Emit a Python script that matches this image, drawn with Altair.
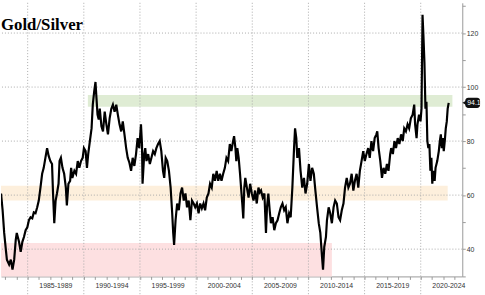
import altair as alt
import pandas as pd

years = [1982.63,1982.77,1982.91,1983.06,1983.15,1983.35,1983.50,1983.65,1983.80,1983.94,1984.03,1984.23,1984.38,1984.53,1984.67,1984.82,1984.97,
1985.11,1985.26,1985.41,1985.55,1985.70,1985.85,1985.99,1986.14,1986.29,1986.43,1986.58,1986.73,1986.87,1987.02,1987.17,1987.26,1987.37,1987.49,1987.61,1987.75,1987.84,1987.96,
1988.10,1988.25,1988.40,1988.49,1988.63,1988.78,1988.87,1988.98,1989.16,1989.31,1989.46,1989.60,1989.75,1989.90,
1990.01,1990.16,1990.28,1990.39,1990.54,1990.69,1990.80,1990.92,1991.04,1991.13,1991.22,1991.33,1991.42,1991.57,1991.71,1991.86,
1992.01,1992.15,1992.30,1992.45,1992.59,1992.74,1992.89,1993.03,1993.18,1993.33,1993.47,1993.62,1993.77,1993.91,
1994.06,1994.21,1994.35,1994.50,1994.65,1994.79,1994.94,1995.09,1995.18,1995.23,1995.38,1995.47,1995.58,1995.73,1995.88,
1996.02,1996.17,1996.32,1996.46,1996.61,1996.76,1996.90,1997.05,1997.16,1997.29,1997.43,1997.58,1997.73,1997.87,1997.96,
1998.04,1998.17,1998.31,1998.46,1998.61,1998.75,1998.90,1999.05,1999.19,1999.34,1999.49,1999.63,1999.78,1999.92,
2000.07,2000.22,2000.36,2000.51,2000.66,2000.80,2000.95,2001.10,2001.24,2001.39,2001.53,2001.68,2001.83,2001.97,
2002.12,2002.26,2002.41,2002.56,2002.70,2002.85,2003.00,2003.14,2003.29,2003.38,2003.50,2003.58,2003.67,2003.79,2003.91,
2004.02,2004.11,2004.20,2004.29,2004.38,2004.52,2004.67,2004.81,2004.96,2005.11,2005.25,2005.40,2005.55,2005.67,2005.78,2005.93,
2006.08,2006.22,2006.31,2006.43,2006.55,2006.66,2006.81,2006.96,2007.10,2007.25,2007.40,2007.54,2007.69,2007.84,2007.98,
2008.13,2008.28,2008.42,2008.57,2008.72,2008.81,2008.92,2009.01,2009.16,2009.30,2009.45,2009.60,2009.74,2009.89,
2010.04,2010.18,2010.33,2010.48,2010.62,2010.77,2010.92,2011.06,2011.21,2011.30,2011.41,2011.56,2011.65,2011.80,2011.94,
2012.09,2012.24,2012.38,2012.53,2012.68,2012.82,2012.97,2013.12,2013.26,2013.41,2013.56,2013.70,2013.85,
2014.00,2014.14,2014.29,2014.44,2014.58,2014.73,2014.88,2015.02,2015.17,2015.32,2015.46,2015.61,2015.76,2015.90,
2016.05,2016.13,2016.25,2016.40,2016.55,2016.69,2016.84,2016.99,2017.13,2017.28,2017.37,2017.52,2017.66,2017.80,2017.95,
2018.10,2018.25,2018.40,2018.53,2018.68,2018.83,2018.97,2019.12,2019.28,2019.42,2019.50,2019.63,2019.71,2019.85,2019.98,
2020.07,2020.16,2020.24,2020.33,2020.42,2020.51,2020.59,2020.68,2020.77,2020.86,2020.95,2021.03,2021.12,2021.24,2021.32,
2021.47,2021.61,2021.70,2021.79,2021.88,2021.97,2022.05,2022.14,2022.23,2022.32,2022.40,2022.49]

ratio = [60.6,54.4,46.0,39.7,36.1,34.3,36.1,32.4,36.1,43.4,46.0,42.7,39.0,42.7,44.5,47.0,48.1,
50.7,51.8,51.4,53.6,53.3,55.5,58.0,62.8,67.9,70.1,73.8,77.4,74.5,72.6,71.5,60.6,49.6,58.0,60.6,64.2,72.6,73.8,
70.1,67.9,62.8,56.2,64.2,65.3,70.1,66.4,69.0,67.9,72.6,70.1,72.6,73.8,
77.4,76.3,70.1,75.2,80.0,84.7,93.5,98.2,101.9,95.7,89.8,88.0,92.0,85.5,83.6,90.9,
86.2,82.5,88.4,92.0,93.5,90.9,93.5,89.8,86.2,83.6,87.3,82.5,77.4,73.8,
72.0,69.0,73.8,70.8,75.2,81.1,77.4,86.2,78.9,64.2,75.2,77.4,72.6,75.2,71.5,
73.8,76.3,75.2,77.4,78.9,80.0,76.3,69.0,66.4,73.8,72.6,69.0,62.8,53.3,46.0,
41.6,50.7,56.9,54.4,60.6,62.8,58.0,60.6,55.5,58.0,50.7,58.0,56.9,55.5,
56.9,53.3,56.9,55.1,56.9,54.4,59.1,60.6,64.2,62.8,67.9,65.3,69.0,65.3,
67.9,65.3,67.9,70.1,73.8,72.6,78.9,76.3,80.0,81.8,77.4,72.6,77.4,73.8,67.9,
61.7,56.9,51.4,62.8,66.4,62.8,59.1,64.2,60.6,58.0,61.7,56.9,62.8,61.0,61.7,59.1,
60.6,46.0,55.5,60.6,54.4,49.6,51.8,47.0,49.6,50.7,53.3,55.5,56.9,54.4,55.5,
49.6,53.3,51.8,62.8,77.4,84.7,81.1,73.8,77.4,69.0,62.8,66.4,60.6,64.2,
71.5,65.3,70.1,67.9,61.7,55.5,49.6,46.0,37.2,32.4,40.8,44.5,50.7,55.5,53.3,
49.6,55.5,58.0,56.9,51.8,50.7,54.4,56.9,62.8,66.4,62.8,64.2,67.9,
61.7,65.3,67.9,62.8,69.0,72.6,76.3,72.6,75.2,77.4,73.8,80.0,76.3,81.1,
82.5,83.6,77.4,72.6,66.4,70.1,67.9,71.5,69.0,75.2,77.4,75.2,80.0,77.4,81.1,
78.9,82.5,80.0,84.7,83.6,86.2,84.7,88.4,89.8,93.5,86.2,81.1,86.2,89.8,87.3,
92.0,126.8,119.1,109.2,92.0,94.6,80.0,77.4,78.9,69.0,73.8,64.2,69.0,65.3,70.1,
72.6,76.3,80.0,82.5,77.4,81.1,76.3,80.0,84.7,87.3,92.0,94.16]

band_start = [1990.36, 1982.625, 1982.625]
band_end = [2022.82, 2022.40, 2012.09]
band_low = [92.75, 58.0, 29.9]
band_high = [97.1, 63.5, 42.3]
band_color = ["#dfecd4", "#fdefdc", "#fde0e1"]

period_starts = [1985, 1990, 1995, 2000, 2005, 2010, 2015, 2020]
grid_levels = [40, 60, 80, 100, 120]
year_ticks = list(range(1983, 2024))
y_ticks = list(range(30, 131, 10))

X_DOMAIN = [1982.625, 2023.7]
Y_DOMAIN = [29.9, 131.2]

df = pd.DataFrame({"year": years, "ratio": ratio})
bands = pd.DataFrame({"year": band_start, "x2": band_end, "ratio": band_low, "y2": band_high, "c": band_color})
seps = pd.DataFrame({"year": period_starts})
grid = pd.DataFrame({"ratio": grid_levels})
last = pd.DataFrame({"year": [years[-1]], "ratio": [ratio[-1]], "label": [f"{ratio[-1]:.2f}"]})

font = "Liberation Sans"

xs = alt.Scale(domain=X_DOMAIN, nice=False, zero=False)
ys = alt.Scale(domain=Y_DOMAIN, nice=False, zero=False)

x_axis = alt.Axis(
    values=year_ticks, tickSize=3, tickColor="#999", domainColor="#999",
    labelExpr="datum.value % 5 == 0 ? datum.value + '-' + (datum.value + 4) : ''",
    labelOffset=28, labelOverlap=False, labelFlush=False, labelBound=False,
    labelFontSize=7, labelFont=font, labelColor="#333", labelPadding=2,
    grid=False, title=None)
y_axis = alt.Axis(
    orient="right", values=y_ticks, tickSize=3, tickColor="#999", domainColor="#999",
    labelExpr="datum.value % 20 == 0 && datum.value >= 40 ? '' + datum.value : ''",
    labelOverlap=False, labelFlush=False, labelBound=False,
    labelFontSize=7, labelFont=font, labelColor="#333", labelPadding=1,
    grid=False, title=None)

X = alt.X("year:Q", scale=xs, axis=x_axis)
Y = alt.Y("ratio:Q", scale=ys, axis=y_axis)

band_layer = alt.Chart(bands).mark_rect(opacity=1).encode(
    x=X, x2="x2:Q", y=Y, y2="y2:Q",
    color=alt.Color("c:N", scale=None),
)

hgrid = alt.Chart(grid).mark_rule(color="#aaaaaa", strokeDash=[1, 2], strokeWidth=1).encode(y=Y)

vsep = alt.Chart(seps).mark_rule(color="#aaaaaa", strokeDash=[1, 2], strokeWidth=1).encode(
    x=X, y=alt.value(0), y2=alt.value(295),
)

line = alt.Chart(df).mark_line(color="#000000", strokeWidth=2.2, clip=True).encode(x=X, y=Y)

tag_rect = alt.Chart(last).transform_calculate(
    top="datum.ratio + 1.9", bot="datum.ratio - 1.9"
).mark_rect(color="#111111", cornerRadius=3).encode(
    x=alt.value(470), x2=alt.value(485),
    y=alt.Y("top:Q", scale=ys, axis=y_axis), y2="bot:Q",
)
tag_tip = alt.Chart(last).mark_point(shape="triangle-left", filled=True, color="#111111", size=18, opacity=1).encode(
    x=alt.value(469), y=Y
)
tag_text = alt.Chart(last).mark_text(color="white", fontSize=7, font=font, align="left", baseline="middle").encode(
    x=alt.value(472), y=Y, text="label:N"
)

title = alt.Chart(last).mark_text(
    text="Gold/Silver", font="Liberation Serif", fontWeight="bold", fontSize=17,
    align="left", baseline="alphabetic", color="#000000"
).encode(x=alt.value(0), y=alt.value(28))

chart = alt.layer(band_layer, hgrid, vsep, line, tag_rect, tag_tip, tag_text, title).properties(
    width=467, height=277, padding=0, background="white"
).configure_view(stroke=None)

chart.save("out.html", embed_options={"renderer": "svg", "actions": False})
